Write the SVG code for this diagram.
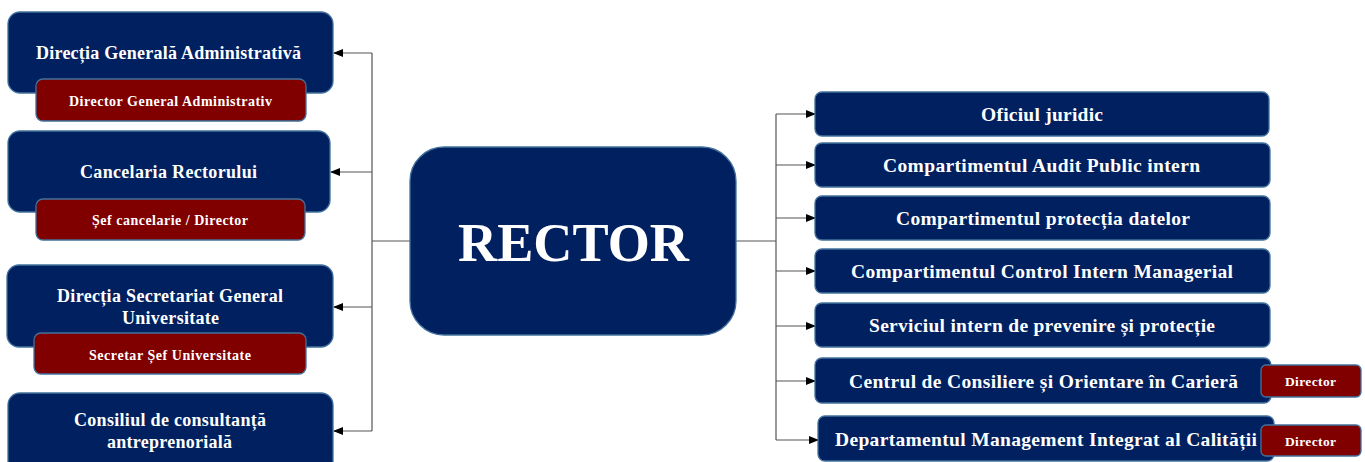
<svg xmlns="http://www.w3.org/2000/svg" width="1365" height="462" viewBox="0 0 1365 462">
<defs>
<marker id="arr" markerWidth="10" markerHeight="10" refX="9" refY="5" orient="auto" markerUnits="userSpaceOnUse">
<path d="M0,1 L10,5 L0,9 Z" fill="#000"/>
</marker>
<style>
.nav{fill:#002060;stroke:#41719C;stroke-width:1.3}
.red{fill:#800000;stroke:#41719C;stroke-width:1.3}
text{font-family:"Liberation Serif","Times New Roman",serif;font-weight:bold;fill:#fff;text-anchor:middle;dominant-baseline:central}
.t17{font-size:18px}
.t13{font-size:14px}
.t18{font-size:19.5px}
.t12{font-size:13.5px}
.big{font-size:55px}
.ln{fill:none;stroke:#555;stroke-width:1.2}
.ar{fill:none;stroke:#555;stroke-width:1.2;marker-end:url(#arr)}
</style>
</defs>
<rect width="1365" height="462" fill="#fff"/>
<g id="connectors">
<path class="ln" d="M410,241 H372 M372,53 V431"/>
<path class="ar" d="M372,53 H334"/>
<path class="ar" d="M372,172 H331"/>
<path class="ar" d="M372,307 H334"/>
<path class="ar" d="M372,431 H334"/>
<path class="ln" d="M736,241 H776 M776,114 V440"/>
<path class="ar" d="M776,114 H815"/>
<path class="ar" d="M776,165 H815"/>
<path class="ar" d="M776,218 H815"/>
<path class="ar" d="M776,271 H815"/>
<path class="ar" d="M776,326 H815"/>
<path class="ar" d="M776,381 H815"/>
<path class="ar" d="M776,440 H818"/>
</g>
<g id="rector">
<rect class="nav" x="410" y="147" width="326" height="188" rx="34"/>
<text class="big" x="573.5" y="242" textLength="231" lengthAdjust="spacingAndGlyphs">RECTOR</text>
</g>
<g id="dga">
<rect class="nav" x="8" y="12" width="325" height="81" rx="12"/>
<text class="t17" x="168.5" y="53" textLength="265" lengthAdjust="spacing">Direcția Generală Administrativă</text>
<rect class="red" x="36" y="79" width="270" height="42" rx="7"/>
<text class="t13" x="170.5" y="101" textLength="203" lengthAdjust="spacing">Director General Administrativ</text>
</g>
<g id="cancelaria">
<rect class="nav" x="8" y="131" width="322" height="81" rx="12"/>
<text class="t17" x="168.5" y="172" textLength="177" lengthAdjust="spacing">Cancelaria Rectorului</text>
<rect class="red" x="36" y="199" width="269" height="41" rx="7"/>
<text class="t13" x="170" y="220" textLength="156" lengthAdjust="spacing">Șef cancelarie / Director</text>
</g>
<g id="secretariat">
<rect class="nav" x="7" y="265" width="326" height="82" rx="12"/>
<text class="t17" x="170" y="296" textLength="226" lengthAdjust="spacing">Direcția Secretariat General</text>
<text class="t17" x="170.5" y="318" textLength="97" lengthAdjust="spacing">Universitate</text>
<rect class="red" x="34" y="333" width="272" height="41" rx="7"/>
<text class="t13" x="170" y="355" textLength="162" lengthAdjust="spacing">Secretar Șef Universitate</text>
</g>
<g id="consiliul">
<rect class="nav" x="8" y="393" width="325" height="80" rx="12"/>
<text class="t17" x="170" y="420" textLength="192" lengthAdjust="spacing">Consiliul  de consultanță</text>
<text class="t17" x="169.5" y="442" textLength="125" lengthAdjust="spacing">antreprenorială</text>
</g>
<g id="oficiul">
<rect class="nav" x="815" y="92" width="454" height="44" rx="7"/>
<text class="t18" x="1042" y="114" textLength="122" lengthAdjust="spacing">Oficiul juridic</text>
</g>
<g id="audit">
<rect class="nav" x="815" y="143" width="455" height="44" rx="7"/>
<text class="t18" x="1041.5" y="165" textLength="317" lengthAdjust="spacing">Compartimentul Audit Public intern</text>
</g>
<g id="datelor">
<rect class="nav" x="815" y="196" width="455" height="44" rx="7"/>
<text class="t18" x="1043" y="218" textLength="294" lengthAdjust="spacing">Compartimentul protecția datelor</text>
</g>
<g id="control">
<rect class="nav" x="815" y="249" width="455" height="44" rx="7"/>
<text class="t18" x="1042" y="271" textLength="382" lengthAdjust="spacing">Compartimentul Control Intern Managerial</text>
</g>
<g id="serviciul">
<rect class="nav" x="815" y="303" width="455" height="44" rx="7"/>
<text class="t18" x="1042" y="325" textLength="346" lengthAdjust="spacing">Serviciul intern de prevenire și protecție</text>
</g>
<g id="centrul">
<rect class="nav" x="815" y="358" width="456" height="45" rx="7"/>
<text class="t18" x="1043.5" y="381" textLength="389" lengthAdjust="spacing">Centrul de Consiliere și Orientare în Carieră</text>
<rect class="red" x="1261" y="365" width="100" height="32" rx="5"/>
<text class="t12" x="1310.5" y="381" textLength="51" lengthAdjust="spacing">Director</text>
</g>
<g id="departamentul">
<rect class="nav" x="818" y="416" width="456" height="45" rx="7"/>
<text class="t18" x="1046" y="439" textLength="422" lengthAdjust="spacing">Departamentul Management Integrat al Calității</text>
<rect class="red" x="1261" y="425" width="100" height="31" rx="5"/>
<text class="t12" x="1310.5" y="441" textLength="51" lengthAdjust="spacing">Director</text>
</g>
</svg>
